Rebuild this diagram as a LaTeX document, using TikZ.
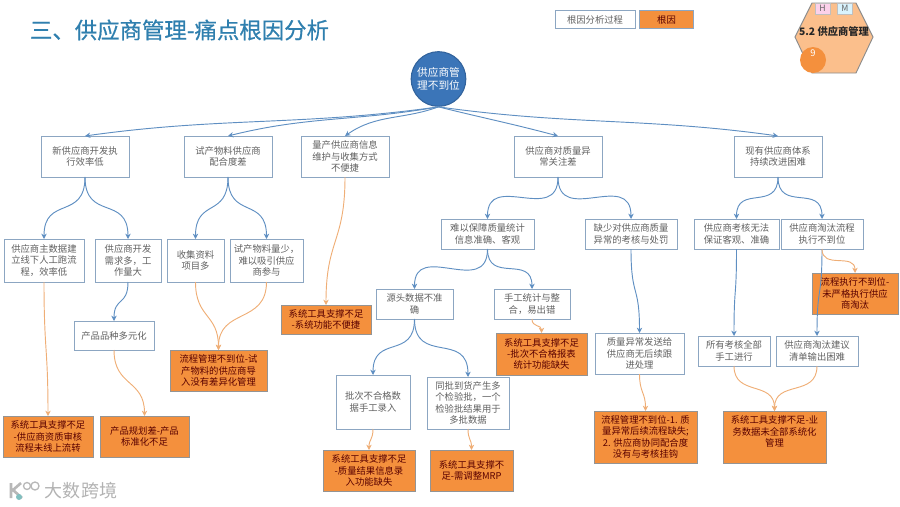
\documentclass[tikz,border=0pt]{standalone}
\usepackage{fontspec}
\setmainfont{Noto Sans CJK SC}
\newfontfamily\titlefont[FakeBold=0.6]{Noto Sans CJK SC}
\usepackage{xcolor}
\usetikzlibrary{arrows.meta}
\definecolor{titleblue}{HTML}{2F7FAE}
\definecolor{rootblue}{HTML}{3B75B8}
\definecolor{linkblue}{HTML}{5F8FC2}
\definecolor{edgeblue}{HTML}{8CA6C2}
\definecolor{linkorange}{HTML}{EFAE76}
\definecolor{causeorange}{HTML}{F4903D}
\definecolor{hexorange}{HTML}{FBBF8C}
\tikzset{
  stepbox/.style={draw=edgeblue,fill=white,line width=0.6pt,inner sep=0pt,outer sep=0pt,
    align=center,text=black!62,font=\fontsize{7}{8.5}\selectfont},
  causebox/.style={draw=black!42,fill=causeorange,line width=0.7pt,inner sep=0pt,outer sep=0pt,
    align=center,text=black!65!red,font=\fontsize{7}{8.5}\selectfont},
  bluelink/.style={draw=linkblue,line width=0.7pt,-{Stealth[length=4pt,width=4pt]}},
  orangelink/.style={draw=linkorange,line width=0.7pt,-{Stealth[length=4pt,width=4pt]}}
}
\begin{document}
\begin{tikzpicture}[x=0.75pt,y=-0.75pt]
  \useasboundingbox (0,0) rectangle (900,507);
  \node[text=titleblue,font=\fontsize{16.8}{20}\selectfont\titlefont,inner sep=0pt] (title) at (179.5,30)
    {三、供应商管理-痛点根因分析};
  % legend
  \node[stepbox,minimum width=60pt,minimum height=14pt] (legstep) at (595,19.5) {根因分析过程};
  \node[causebox,draw=edgeblue,minimum width=40pt,minimum height=14pt] (legcause) at (666.5,19.5) {根因};
  % hexagon badge
  \draw[draw=black!45,fill=hexorange,line width=0.7pt]
    (795,37) -- (812,3) -- (856,3) -- (873,37) -- (856,73) -- (812,73) -- cycle;
  \node[draw=black!25,fill=magenta!18,inner sep=0pt,minimum width=11pt,minimum height=8pt,
    font=\fontsize{6.5}{7}\selectfont,text=black!60] (tagh) at (822.5,8.5) {H};
  \node[draw=black!25,fill=cyan!15,inner sep=0pt,minimum width=11pt,minimum height=8pt,
    font=\fontsize{6.5}{7}\selectfont,text=black!60] (tagm) at (845,8.5) {M};
  \node[inner sep=0pt,font=\fontsize{7.7}{9}\selectfont\bfseries,text=black!85] (hexname) at (834,32) {5.2 供应商管理};
  \node[circle,fill=causeorange,inner sep=0pt,minimum size=19.5pt] (hexdot) at (813,60) {};
  \node[inner sep=0pt,font=\fontsize{7}{8}\selectfont,text=white] (hexnum) at (813,53) {9};
  % root
  \node[circle,draw=rootblue!85!black,fill=rootblue,line width=0.8pt,inner sep=0pt,minimum size=41pt,
    align=center,text=white,font=\fontsize{8}{9.4}\selectfont] (root) at (438.5,79) {供应商管\\理不到位};
  % process boxes
  \foreach \n/\x/\y/\w/\h/\t in {
    a/85/156.5/88/41/新供应商开发执\\行效率低,
    b/228/156.5/88/41/试产物料供应商\\配合度差,
    c/345/156.5/88/41/量产供应商信息\\维护与收集方式\\不便捷,
    d/558/156.5/88/41/供应商对质量异\\常关注差,
    e/778/156.5/88/41/现有供应商体系\\持续改进困难,
    a1/44/260.5/80/43/供应商主数据建\\立线下人工跑流\\程，效率低,
    a2/128/260.5/66/43/供应商开发\\需求多，工\\作量大,
    b1/195.5/260.5/57/43/收集资料\\项目多,
    b2/266.5/260.5/73/43/试产物料量少，\\难以吸引供应\\商参与,
    p/114/335.5/80/29/产品品种多元化,
    d1/487.5/234/93/30/难以保障质量统计\\信息准确、客观,
    d2/631/234/92/30/缺少对供应商质量\\异常的考核与处罚,
    e1/736.5/234/85/30/供应商考核无法\\保证客观、准确,
    e2/822/234/82/30/供应商淘汰流程\\执行不到位,
    d1a/414.5/304/77/30/源头数据不准\\确,
    d1b/532/304/76/30/手工统计与整\\合，易出错,
    d1c/373/402/74/54/批次不合格数\\据手工录入,
    d1d/468/403/82/52/同批到货产生多\\个检验批，一个\\检验批结果用于\\多批数据,
    d2a/639.5/353.5/89/41/质量异常发送给\\供应商无后续跟\\进处理,
    e1a/734/351/72/30/所有考核全部\\手工进行,
    e2a/817/351/82/30/供应商淘汰建议\\清单输出困难}{
    \node[stepbox,minimum width=\w*0.75pt,minimum height=\h*0.75pt] (\n) at (\x,\y) {\t};}
  % root causes
  \foreach \n/\x/\y/\w/\h/\t in {
    a1r/48/436.5/90/41/系统工具支撑不足\\-供应商资质审核\\流程未线上流转,
    pr/144.5/436.5/89/41/产品规划差-产品\\标准化不足,
    br/218.5/370.5/97/41/流程管理不到位-试\\产物料的供应商导\\入没有差异化管理,
    cr/326/319.5/90/29/系统工具支撑不足\\-系统功能不便捷,
    d1cr/369/470.5/92/41/系统工具支撑不足\\-质量结果信息录\\入功能缺失,
    d1dr/471.5/470.5/83/41/系统工具支撑不\\足-需调整MRP,
    d1br/541.5/354/91/42/系统工具支撑不足\\-批次不合格报表\\统计功能缺失,
    d2r/645.5/437/103/52/流程管理不到位-1. 质\\量异常后续流程缺失;\\2. 供应商协同配合度\\没有与考核挂钩,
    e2r/855/293.5/86/41/流程执行不到位-\\未严格执行供应\\商淘汰,
    er/774.5/437/103/52/系统工具支撑不足-业\\务数据未全部系统化\\管理\\~}{
    \node[causebox,minimum width=\w*0.75pt,minimum height=\h*0.75pt] (\n) at (\x,\y) {\t};}
  % links from the root
  \foreach \b/\o/\i in {a/-172/8, b/-170/14, c/-160/35, d/-14/165, e/-8/172}{
    \draw[bluelink] (root.south) to[out=\o,in=\i] (\b.north);}
  % links between process boxes
  \foreach \a/\b in {a/a1,a/a2,b/b1,b/b2,d/d1,d/d2,e/e1,e/e2,a2/p,d1/d1a,d1/d1b,
    d1a/d1c,d1a/d1d,d2/d2a,e1/e1a,e2/e2a}{
    \draw[bluelink] (\a.south) to[out=-90,in=90,looseness=1.5] (\b.north);}
  % links to the root causes
  \foreach \a/\b in {a1/a1r,p/pr,b1/br,b2/br,c/cr,d1c/d1cr,d1d/d1dr,d1b/d1br,d2a/d2r,
    e1a/er,e2a/er,e2/e2r}{
    \draw[orangelink] (\a.south) to[out=-90,in=90,looseness=1.3] (\b.north);}
  % watermark
  \draw[black!28,line width=2pt] (11,483) -- (11,498) (21,483) -- (13,490) -- (22,498);
  \draw[black!28,line width=1pt] (27,486) circle (3.5) (35,486) circle (4);
  \fill[teal!50] (19,497) circle (3);
  \node[inner sep=0pt,text=black!30,font=\fontsize{13.5}{16}\selectfont] (mark) at (81,490.5) {大数跨境};
\end{tikzpicture}
\end{document}
